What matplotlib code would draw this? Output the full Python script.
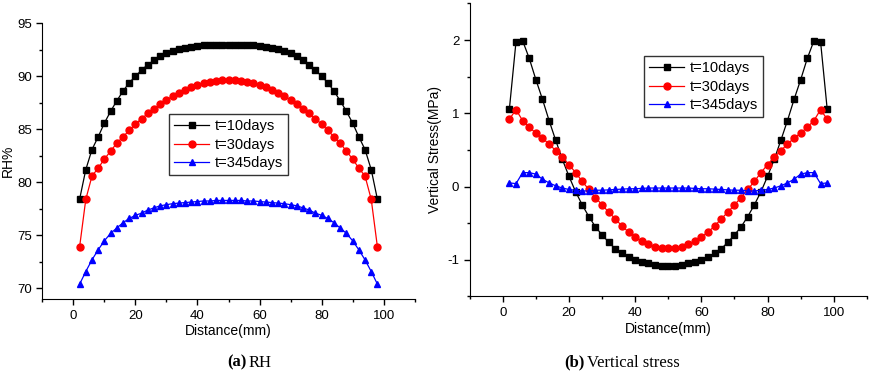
import numpy as np
import matplotlib
matplotlib.use("Agg")
import matplotlib.pyplot as plt
from matplotlib.ticker import MultipleLocator

plt.rcParams['font.family'] = ['Liberation Sans', 'DejaVu Sans']
plt.rcParams['axes.unicode_minus'] = False

distance = np.arange(2, 100, 2)

# RH (%)
rh_10 = [78.4, 81.2, 83.1, 84.3, 85.6, 86.7, 87.7, 88.6, 89.4, 90.0,
         90.6, 91.1, 91.5, 91.9, 92.2, 92.4, 92.6, 92.7, 92.8, 92.9,
         92.95, 93.0, 93.0, 93.0, 93.0, 93.0, 93.0, 93.0, 92.95, 92.9,
         92.8, 92.7, 92.6, 92.4, 92.2, 91.9, 91.5, 91.1, 90.6, 90.0,
         89.4, 88.6, 87.7, 86.7, 85.6, 84.3, 83.1, 81.2, 78.4]
rh_30 = [73.9, 78.4, 80.6, 81.35, 82.2, 82.95, 83.7, 84.3, 84.9, 85.5,
         86.0, 86.5, 86.95, 87.35, 87.8, 88.1, 88.4, 88.7, 88.95, 89.2,
         89.4, 89.5, 89.6, 89.65, 89.7, 89.65, 89.6, 89.5, 89.4, 89.2,
         88.95, 88.7, 88.4, 88.1, 87.8, 87.35, 86.95, 86.5, 86.0, 85.5,
         84.9, 84.3, 83.7, 82.95, 82.2, 81.35, 80.6, 78.4, 73.9]
rh_345 = [70.4, 71.6, 72.7, 73.65, 74.5, 75.2, 75.7, 76.2, 76.6, 76.9,
          77.1, 77.4, 77.6, 77.8, 77.9, 78.0, 78.05, 78.1, 78.15, 78.2,
          78.25, 78.25, 78.3, 78.3, 78.3, 78.3, 78.3, 78.25, 78.25, 78.2,
          78.15, 78.1, 78.05, 78.0, 77.9, 77.8, 77.6, 77.4, 77.1, 76.9,
          76.6, 76.2, 75.7, 75.2, 74.5, 73.65, 72.7, 71.6, 70.4]

# Vertical stress (MPa)
vs_10 = [1.06, 1.98, 1.99, 1.75, 1.46, 1.19, 0.90, 0.63, 0.37, 0.14,
         -0.07, -0.25, -0.41, -0.55, -0.66, -0.76, -0.85, -0.91, -0.96, -1.0,
         -1.03, -1.05, -1.07, -1.08, -1.08, -1.08, -1.07, -1.05, -1.03, -1.0,
         -0.96, -0.91, -0.85, -0.76, -0.66, -0.55, -0.41, -0.25, -0.07, 0.14,
         0.37, 0.63, 0.90, 1.19, 1.46, 1.75, 1.99, 1.98, 1.06]
vs_30 = [0.92, 1.05, 0.90, 0.81, 0.73, 0.66, 0.58, 0.49, 0.40, 0.30,
         0.19, 0.07, -0.04, -0.15, -0.25, -0.35, -0.44, -0.54, -0.62, -0.69,
         -0.75, -0.79, -0.82, -0.84, -0.845, -0.84, -0.82, -0.79, -0.75, -0.69,
         -0.62, -0.54, -0.44, -0.35, -0.25, -0.15, -0.04, 0.07, 0.19, 0.30,
         0.40, 0.49, 0.58, 0.66, 0.73, 0.81, 0.90, 1.05, 0.92]
vs_345 = [0.05, 0.04, 0.19, 0.19, 0.17, 0.10, 0.05, 0.01, -0.02, -0.04,
          -0.05, -0.06, -0.06, -0.05, -0.05, -0.045, -0.04, -0.035, -0.03, -0.03,
          -0.025, -0.02, -0.02, -0.02, -0.02, -0.02, -0.02, -0.02, -0.025, -0.03,
          -0.03, -0.035, -0.04, -0.045, -0.05, -0.05, -0.06, -0.06, -0.05, -0.04,
          -0.02, 0.01, 0.05, 0.10, 0.17, 0.19, 0.19, 0.04, 0.05]

labels = ['t=10days', 't=30days', 't=345days']
colors = ['black', 'red', 'blue']
markers = ['s', 'o', '^']

fig = plt.figure(figsize=(8.73, 3.82), dpi=100)
ax1 = fig.add_axes([0.0485, 0.217, 0.4265, 0.722])
ax2 = fig.add_axes([0.538, 0.224, 0.455, 0.767])


def style_axes(ax):
    for s in ['top', 'right']:
        ax.spines[s].set_visible(False)
    ax.tick_params(which='major', direction='out', length=4, width=1, labelsize=9.5)
    ax.tick_params(which='minor', direction='out', length=2.5, width=1)
    ax.xaxis.set_major_locator(MultipleLocator(20))
    ax.xaxis.set_minor_locator(MultipleLocator(10))
    ax.set_xlim(-10, 110)
    ax.set_xticks([0, 20, 40, 60, 80, 100])
    ax.set_xlabel('Distance(mm)', fontsize=10, labelpad=2)


def add_legend(ax, anchor):
    leg = ax.legend(loc='upper left', bbox_to_anchor=anchor, fancybox=False,
                    edgecolor='black', fontsize=10.5, handlelength=2.4, borderpad=0.35,
                    labelspacing=0.3, handletextpad=0.4, borderaxespad=0)
    leg.get_frame().set_linewidth(1)


for ys, lab, c, m in zip([rh_10, rh_30, rh_345], labels, colors, markers):
    ax1.plot(distance, ys, color=c, marker=m, markersize=5, linewidth=0.9, label=lab)
style_axes(ax1)
ax1.set_ylim(69, 95)
ax1.yaxis.set_major_locator(MultipleLocator(5))
ax1.yaxis.set_minor_locator(MultipleLocator(2.5))
ax1.set_yticks([70, 75, 80, 85, 90, 95])
ax1.set_ylabel('RH%', fontsize=10, labelpad=2)
add_legend(ax1, (0.34, 0.67))

for ys, lab, c, m in zip([vs_10, vs_30, vs_345], labels, colors, markers):
    ax2.plot(distance, ys, color=c, marker=m, markersize=5, linewidth=0.9, label=lab)
style_axes(ax2)
ax2.set_ylim(-1.5, 2.5)
ax2.yaxis.set_major_locator(MultipleLocator(1))
ax2.yaxis.set_minor_locator(MultipleLocator(0.5))
ax2.set_yticks([-1, 0, 1, 2])
ax2.set_ylabel('Vertical Stress(MPa)', fontsize=10, labelpad=4)
add_legend(ax2, (0.439, 0.82))

serif = 'Liberation Serif'
fig.text(0.283, 0.04, '(a)', ha='right', fontsize=12, family=serif, weight='bold')
fig.text(0.285, 0.04, 'RH', ha='left', fontsize=12, family=serif)
fig.text(0.67, 0.04, '(b)', ha='right', fontsize=12, family=serif, weight='bold')
fig.text(0.672, 0.04, 'Vertical stress', ha='left', fontsize=12, family=serif)

fig.savefig('out.png', dpi=100)
